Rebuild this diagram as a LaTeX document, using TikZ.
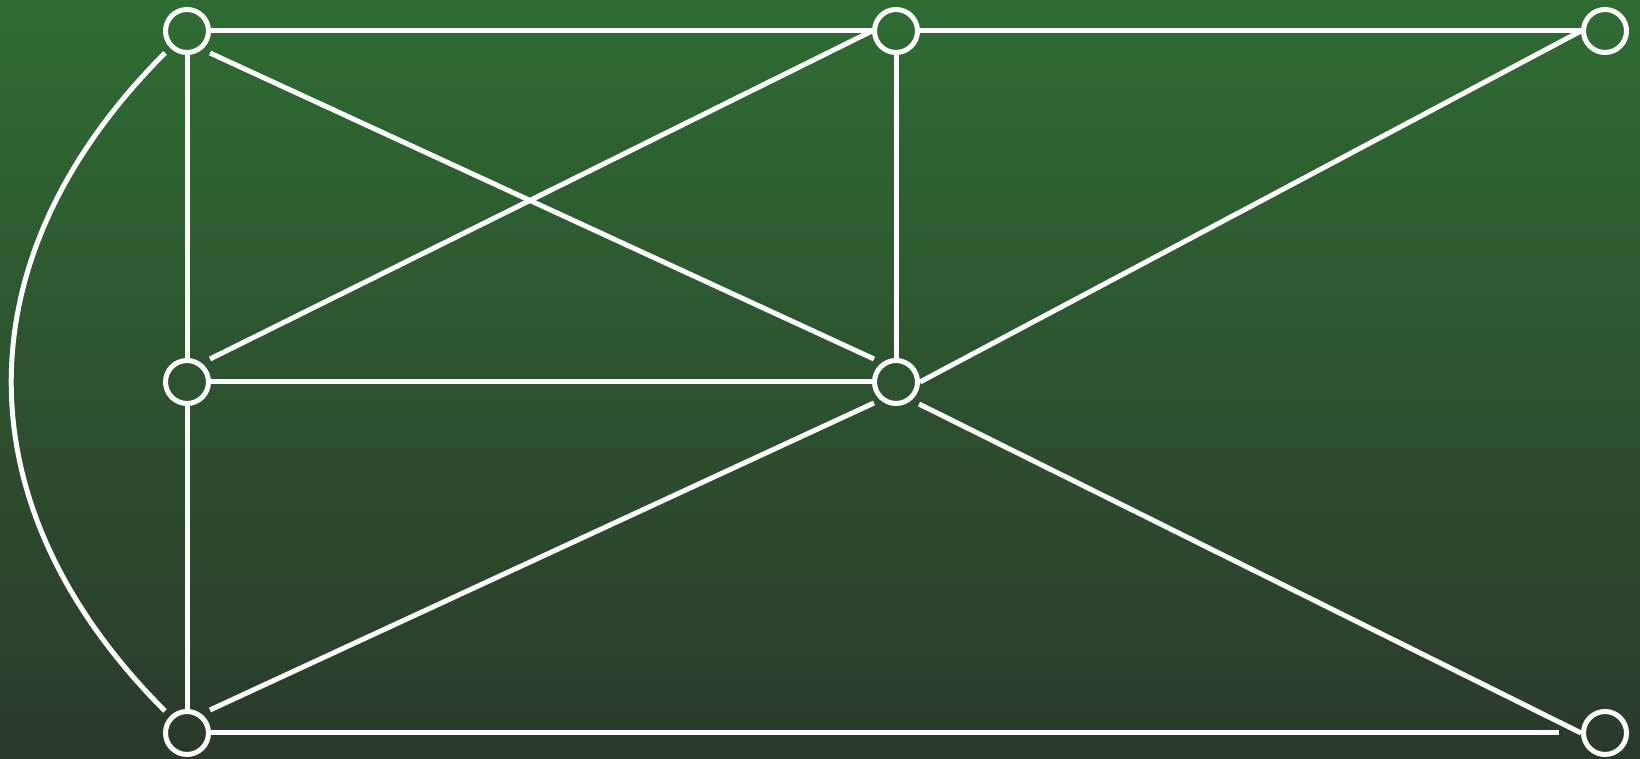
\documentclass[tikz,border=0pt]{standalone}
\usepackage{xcolor}
\usetikzlibrary{positioning}
\definecolor{fondhaut}{RGB}{46,108,50}
\definecolor{fondbas}{RGB}{42,58,42}
\tikzset{
  sommet/.style={circle, draw=white, line width=0.1cm, minimum size=0.86cm, inner sep=0pt},
  arete/.style={draw=white, line width=0.1cm},
}

\begin{document}
\begin{tikzpicture}[x=0.02cm,y=0.02cm]

    \shade[top color=fondhaut, bottom color=fondbas] (0,0) rectangle (1640,759); % ----- Fond
    \useasboundingbox (0,0) rectangle (1640,759);

    \foreach \nom/\x/\y in {hg/187/728, hm/896/728, hd/1605/728, mg/187/377, mm/896/377, bg/187/26, bd/1605/26} % ----- Sommets
        \node[sommet] (\nom) at (\x,\y) {};

    \foreach \a/\b in {hg/hm, hm/hd, mg/mm, hg/mg, mg/bg, hm/mm} % ----- Aretes
        \draw[arete] (\a) -- (\b);

    \draw[arete] (mm.east) -- (hd.west);
    \draw[arete] ([shift={(23,-22)}]hg.center) -- ([shift={(-22,23)}]mm.center);
    \draw[arete] ([shift={(23,23)}]mg.center) -- (hm.west);
    \draw[arete] ([shift={(23,23)}]bg.center) -- ([shift={(-22,-21)}]mm.center);
    \draw[arete] ([shift={(23,-22)}]mm.center) -- (bd.west);
    \draw[arete] (bg.east) -- ([shift={(-46,0)}]bd.center);

    \draw[arete] ([shift={(-22,-22)}]hg.center) to[out=225, in=135, looseness=1.13] ([shift={(-22,22)}]bg.center); % ----- Arc
\end{tikzpicture}
\end{document}
